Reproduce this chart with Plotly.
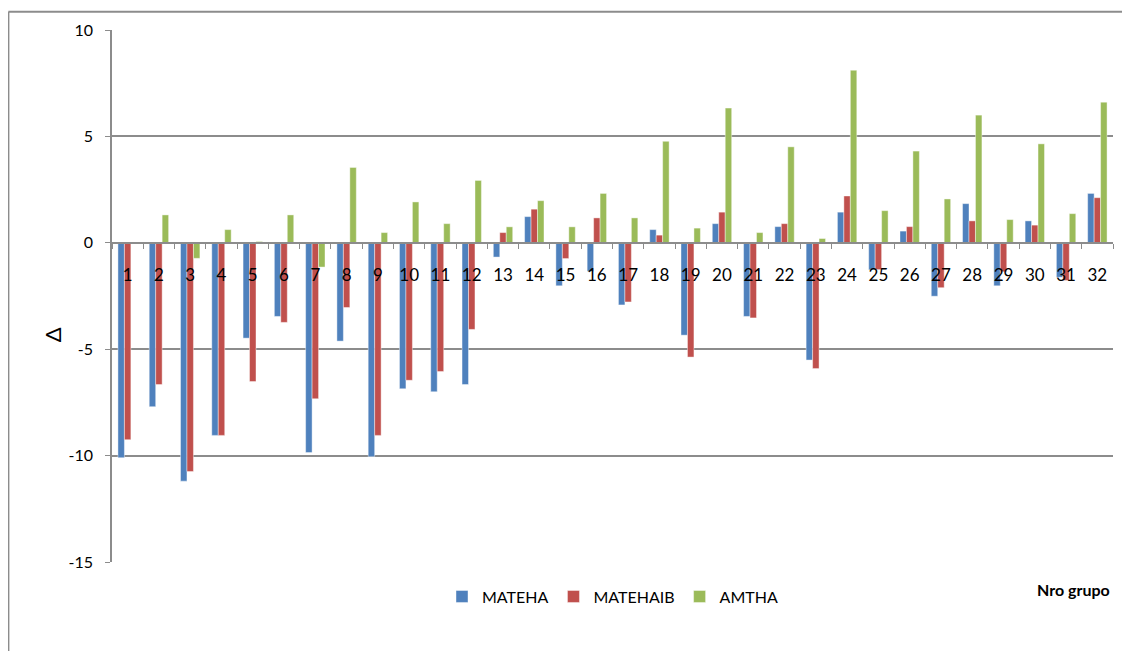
import plotly.graph_objects as go

groups = [str(i) for i in range(1, 33)]
mateha = [-10.1, -7.7, -11.2, -9.05, -4.48, -3.46, -9.86, -4.62, -10.05, -6.86, -7.0, -6.66,
          -0.67, 1.23, -2.02, -1.34, -2.92, 0.62, -4.34, 0.9, -3.46, 0.76, -5.51, 1.44,
          -1.27, 0.55, -2.51, 1.84, -2.02, 1.03, -1.62, 2.32]
matehaib = [-9.25, -6.66, -10.75, -9.05, -6.52, -3.74, -7.33, -3.04, -9.05, -6.46, -6.05, -4.07,
            0.48, 1.58, -0.74, 1.17, -2.78, 0.36, -5.37, 1.44, -3.53, 0.9, -5.91, 2.2,
            -1.26, 0.76, -2.11, 1.03, -1.36, 0.83, -1.77, 2.12]
amtha = [0.03, 1.31, -0.73, 0.62, 0.06, 1.31, -1.14, 3.54, 0.48, 1.92, 0.9, 2.93,
         0.75, 1.98, 0.75, 2.32, 1.17, 4.77, 0.69, 6.33, 0.48, 4.51, 0.2, 8.11,
         1.51, 4.31, 2.06, 6.0, 1.09, 4.65, 1.37, 6.61]

y_tickvals = [-15, -10, -5, 0, 5, 10]
y_ticktext = ["-15", "-10", "-5", "0", "5", "10"]

series = [("MATEHA", mateha, "#4F81BD"), ("MATEHAIB", matehaib, "#C0504D"), ("AMTHA", amtha, "#9BBB59")]

FONT = "Lato, Carlito, 'Liberation Sans', sans-serif"
GRID = "#8C8C8C"

fig = go.Figure()
for name, vals, col in series:
    fig.add_trace(go.Bar(x=groups, y=vals, name=name,
                         marker=dict(color=col, line=dict(color="rgba(255,255,255,0.7)", width=0.6))))

fig.update_layout(
    width=1122, height=643,
    margin=dict(l=104, r=17, t=19, b=89),
    paper_bgcolor="white", plot_bgcolor="white",
    font=dict(family=FONT, size=15, color="#000000"),
    barmode="group", bargap=0.38, bargroupgap=0,
    showlegend=True,
    legend=dict(orientation="h", x=0.5, xanchor="center", y=-0.065, yanchor="middle",
                font=dict(size=16), itemwidth=30, traceorder="normal", tracegroupgap=0),
    xaxis=dict(type="category", anchor="free", position=0.6, showline=True, linecolor=GRID, linewidth=1.5,
               ticks="outside", ticklen=5, tickcolor=GRID, tickson="boundaries",
               ticklabelstandoff=17, showgrid=False, zeroline=False, tickfont=dict(size=17)),
    yaxis=dict(range=[-15, 10], tickvals=y_tickvals, ticktext=y_ticktext, showline=True,
               linecolor=GRID, linewidth=1.5,
               ticks="outside", ticklen=5, tickcolor=GRID, showgrid=True, gridcolor=GRID, gridwidth=1.5,
               zeroline=False, ticklabelstandoff=9, tickfont=dict(size=16)),
    annotations=[
        dict(text="Δ", xref="paper", yref="paper", x=-0.06, y=0.428, xanchor="center", yanchor="middle",
             showarrow=False, textangle=-90, font=dict(size=22)),
        dict(text="<b>Nro grupo</b>", xref="paper", yref="paper", x=0.999, y=-0.052, xanchor="right",
             yanchor="middle", showarrow=False, font=dict(size=16)),
    ],
    shapes=[
        dict(type="line", xref="paper", yref="paper", x0=-0.1035, x1=1.2, y0=1.0345, y1=1.0345,
             line=dict(color="#8C8C8C", width=2)),
        dict(type="line", xref="paper", yref="paper", x0=-0.1035, x1=-0.1035, y0=1.0345, y1=-0.3,
             line=dict(color="#8C8C8C", width=2)),
    ],
)

fig.write_html("out.html")
